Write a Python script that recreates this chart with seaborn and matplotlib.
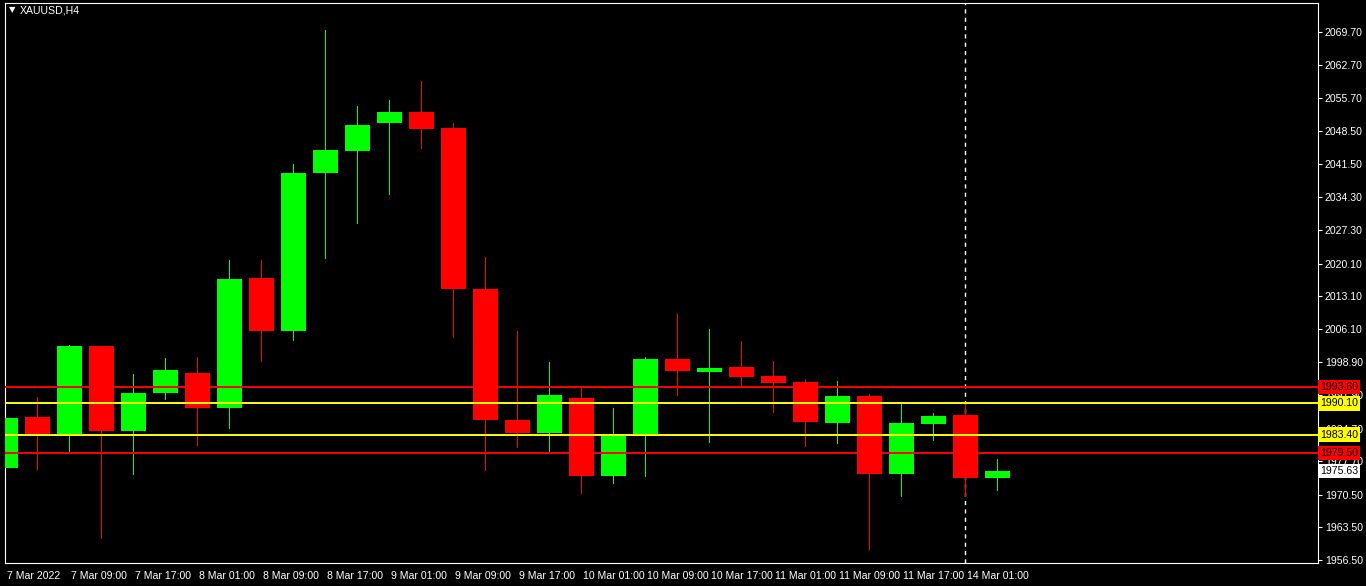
import matplotlib
matplotlib.use('Agg')
import matplotlib.pyplot as plt
import matplotlib.transforms as mtransforms
import seaborn as sns

# XAUUSD H4 candles, 7 Mar 01:00 .. 14 Mar 05:00
opens = [1976.31, 1987.19, 1983.18, 2002.43, 1984.18, 1992.34, 1996.63, 1989.18, 2017.02, 2005.64,
         2039.55, 2044.27, 2050.28, 2052.64, 2049.21, 2014.66, 1986.55, 1983.82, 1991.27, 1974.59,
         1983.18, 1999.64, 1996.85, 1997.92, 1995.99, 1994.70, 1985.97, 1991.70, 1975.02, 1985.75,
         1987.62, 1974.16]
highs = [2001.20, 1991.48, 2002.64, 2002.43, 1996.42, 1999.85, 2000.06, 2020.88, 2020.88, 2041.48,
         2070.24, 2053.93, 2055.22, 2059.29, 2050.28, 2021.52, 2005.64, 1998.99, 1993.52, 1989.12,
         2000.06, 2009.29, 2006.07, 2003.50, 1999.21, 1995.34, 1994.91, 1992.12, 1989.98, 1988.05,
         1989.98, 1978.18]
lows = [1974.59, 1975.88, 1979.74, 1960.94, 1974.81, 1990.90, 1981.03, 1984.68, 1999.06, 2003.56,
        2021.16, 2028.67, 2034.89, 2044.76, 2004.21, 1975.67, 1980.60, 1979.74, 1970.73, 1972.88,
        1974.38, 1991.76, 1981.67, 1993.84, 1988.11, 1980.82, 1981.46, 1958.71, 1970.09, 1982.10,
        1970.09, 1971.37]
closes = [1986.97, 1983.18, 2002.43, 1984.18, 1992.34, 1997.28, 1989.18, 2016.80, 2005.64, 2039.55,
          2044.49, 2049.85, 2052.64, 2048.99, 2014.72, 1986.61, 1983.82, 1991.91, 1974.59, 1983.39,
          1999.64, 1997.12, 1997.70, 1995.84, 1994.49, 1986.18, 1991.70, 1975.02, 1985.90, 1987.40,
          1974.16, 1975.63]

time_labels = ['7 Mar 2022', '7 Mar 09:00', '7 Mar 17:00', '8 Mar 01:00', '8 Mar 09:00', '8 Mar 17:00',
               '9 Mar 01:00', '9 Mar 09:00', '9 Mar 17:00', '10 Mar 01:00', '10 Mar 09:00',
               '10 Mar 17:00', '11 Mar 01:00', '11 Mar 09:00', '11 Mar 17:00', '14 Mar 01:00']

price_ticks = [2069.70, 2062.70, 2055.70, 2048.50, 2041.50, 2034.30, 2027.30, 2020.10, 2013.10,
               2006.10, 1998.90, 1991.90, 1984.70, 1977.70, 1970.50, 1963.50, 1956.50]

levels = [1993.60, 1990.10, 1983.40, 1979.50]
level_colors = ['#ff0000', '#ffff00', '#ffff00', '#ff0000']
last_price = 1975.63

sns.set_theme(style='dark', rc={'axes.facecolor': 'black', 'figure.facecolor': 'black',
                                'axes.edgecolor': 'white', 'text.color': 'white',
                                'xtick.color': 'white', 'ytick.color': 'white'})
plt.rcParams['font.family'] = ['Liberation Sans', 'DejaVu Sans']

W, H = 1366, 586
fig = plt.figure(figsize=(W / 100, H / 100), dpi=100)
ax = fig.add_axes([4.5 / W, 23 / H, (1318 - 4.5) / W, (563 - 3) / H])

n = len(opens)
xs = list(range(n))
cols = ['#00ff00' if c >= o else '#ff0000' for o, c in zip(opens, closes)]
bottoms = [min(o, c) for o, c in zip(opens, closes)]
heights = [max(abs(c - o), 0.15) for o, c in zip(opens, closes)]
wick_h = [h - l for h, l in zip(highs, lows)]

# period separator sits behind the candles
ax.axvline(30, color='white', linewidth=1, linestyle=(0, (3, 3)), zorder=1.5)

# wicks as 1px-wide bars (one candle slot is 32px)
ax.bar(xs, wick_h, bottom=lows, width=1.2 / 32, color=cols, linewidth=0, antialiased=False,
       zorder=2)
ax.bar(xs, heights, bottom=bottoms, width=0.78, color=cols, linewidth=0, zorder=3)

for v, c in zip(levels, level_colors):
    ax.axhline(v, color=c, linewidth=1.4, zorder=4)

ax.set_xlim(-0.03, 41.02)
ax.set_ylim(1955.86, 2076.03)

ax.yaxis.tick_right()
ax.set_yticks(price_ticks)
ax.set_yticklabels(['%.2f' % t for t in price_ticks], fontsize=7.6)
ax.set_xticks(xs[::2])
ax.set_xticklabels(time_labels, fontsize=7.6, ha='left')
ax.tick_params(axis='both', length=3, width=0.8, colors='white', pad=2)
ax.tick_params(axis='x', pad=3)
offset = mtransforms.ScaledTranslation(1.5 / 100, 0, fig.dpi_scale_trans)
for lbl in ax.get_xticklabels():
    lbl.set_transform(lbl.get_transform() + offset)

for s in ax.spines.values():
    s.set_color('white')
    s.set_linewidth(0.8)
ax.grid(False)

trans = mtransforms.blended_transform_factory(ax.transAxes, ax.transData)
for v, c in zip(levels, level_colors):
    ax.text(1.0015, v, '%.2f' % v, transform=trans, ha='left', va='center', fontsize=7.6,
            color='black', bbox=dict(facecolor=c, edgecolor='none', boxstyle='square,pad=0.22'),
            zorder=6, clip_on=False)
ax.text(1.0015, last_price, '%.2f' % last_price, transform=trans, ha='left', va='center',
        fontsize=7.6, color='black',
        bbox=dict(facecolor='white', edgecolor='none', boxstyle='square,pad=0.22'),
        zorder=6, clip_on=False)

fig.text(9 / W, 1 - 10 / H, '\u25bc', fontsize=6, color='white', va='center', ha='left',
         family='DejaVu Sans')
fig.text(20 / W, 1 - 10.5 / H, 'XAUUSD,H4', fontsize=7.6, color='white', va='center', ha='left')

fig.savefig('out.png', dpi=100, facecolor='black', edgecolor='#a0a0a0')
